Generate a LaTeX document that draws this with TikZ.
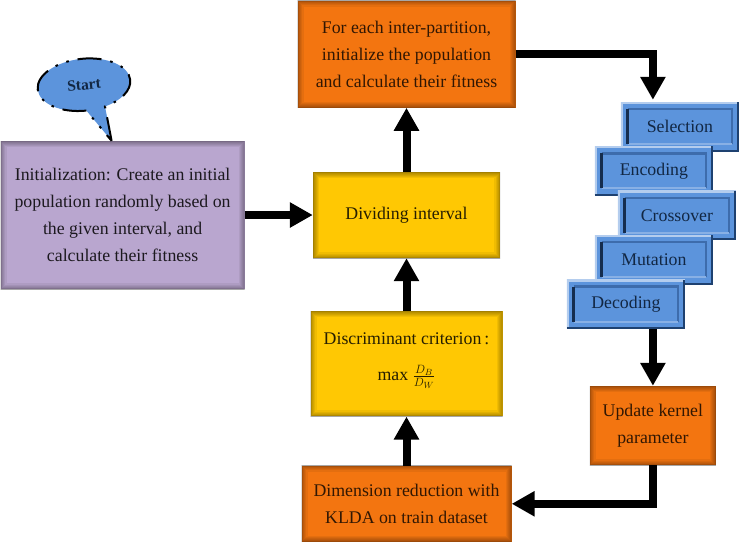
\documentclass[tikz,border=0pt]{standalone}
\usepackage{fontspec}
\setmainfont{Liberation Serif}
\usetikzlibrary{arrows.meta,positioning,calc,shapes.callouts}
\definecolor{initFill}{HTML}{B9A6CF}
\definecolor{stepFill}{HTML}{FFC803}
\definecolor{loopFill}{HTML}{F37510}
\definecolor{blockFill}{HTML}{5C94DC}
\definecolor{blockLight}{HTML}{B4CDEE}
\definecolor{blockMid}{HTML}{3D6CAC}
\definecolor{blockDark}{HTML}{1E4170}
\tikzset{
  x=1pt, y=1pt,
  font=\fontsize{17.8}{27}\selectfont,
  innershade/.style={path picture={
      \foreach \w in {1,2,3,5,7,9,12}
        \draw[black, opacity=0.06, line width=\w pt]
          (path picture bounding box.south west) rectangle (path picture bounding box.north east);}},
  box/.style   ={align=center, inner sep=0pt, innershade},
  init/.style  ={box, fill=initFill, text=black!85!initFill},
  stage/.style ={box, fill=stepFill, text=black!85!stepFill},
  loopy/.style ={box, fill=loopFill, text=black!80!loopFill},
  block/.style ={align=center, inner sep=0pt, fill=blockFill, minimum width=118pt, minimum height=49pt,
      text=blockDark!60!black, path picture={
      \coordinate (sw) at (path picture bounding box.south west);
      \coordinate (ne) at (path picture bounding box.north east);
      \coordinate (nw) at (path picture bounding box.north west);
      \coordinate (se) at (path picture bounding box.south east);
      % outer rim
      \draw[blockLight, line width=4pt] (sw) -- (nw) -- (ne);
      \draw[blockDark, line width=3pt] (sw) -- (se) -- (ne);
      % inner frame
      \draw[blockMid, line width=2.5pt] ([shift={(7,-7)}]nw) -- ([shift={(-7,-7)}]ne) -- ([shift={(-7,7)}]se);
      \draw[blockLight!50!blockFill, line width=2pt] ([shift={(7,7)}]sw) -- ([shift={(-7,7)}]se);
      \draw[blockDark!70!black, line width=3pt] ([shift={(7,-7)}]nw) -- ([shift={(7,7)}]sw);
      }},
  arr/.style   ={-{Triangle[length=23pt,width=24pt]}, line width=8pt, black},
}
\begin{document}
\begin{tikzpicture}
  \useasboundingbox (0,0) rectangle (740,-542);
  % middle column
  \node[stage, minimum width=187pt, minimum height=86pt] (divide) at (406.5,-215) {Dividing interval};
  \node[init, left=68pt of divide, minimum width=244pt, minimum height=148pt] (init)
        {Initialization: Create an initial\\population randomly based on\\the given interval, and\\calculate their fitness};
  \node[loopy, above=64pt of divide, minimum width=218pt, minimum height=107pt] (top)
        {For each inter-partition,\\initialize the population\\and calculate their fitness};
  \node[stage, below=53pt of divide, minimum width=192pt, minimum height=105pt] (crit)
        {Discriminant criterion\,:\\[9pt]max\ $\frac{D_B}{D_W}$\rule[-14pt]{0pt}{14pt}};
  \node[loopy, below=49pt of crit, minimum width=210pt, minimum height=76pt] (dimen)
        {Dimension reduction with\\KLDA on train dataset};

  % genetic operators
  \node[block, below right=-6pt and 105pt of top] (select) {Selection};
  \node[block, below=-5pt of select, xshift=-26pt] (encode) {Encoding};
  \node[block, below=-5pt of encode, xshift=23pt]  (cross)  {Crossover};
  \node[block, below=-5pt of cross, xshift=-23pt]  (mutate) {Mutation};
  \node[block, below=-5pt of mutate, xshift=-28pt] (decode) {Decoding};
  \node[loopy, below=57pt of decode, xshift=27pt, minimum width=126pt, minimum height=79pt] (update)
        {Update kernel\\parameter};

  % start bubble
  \node[ellipse callout, callout absolute pointer={(init.north)+(-11,0)}, callout pointer arc=24, rotate=6,
        draw=black, fill=blockFill, line width=2pt,
        dash pattern=on 24pt off 9pt on 2.5pt off 9pt on 2.5pt off 9pt,
        minimum width=93pt, minimum height=52pt, inner sep=0pt,
        font=\fontsize{15.5}{16}\selectfont\bfseries, text=blockDark!60!black,
        above=33pt of init.north, xshift=-36pt] (start) {Start};

  % flow
  \coordinate (selectIn) at ([xshift=-27pt,yshift=2pt]select.north);
  \foreach \a/\b in {init/divide, divide/top, crit/divide, dimen/crit}
      \draw[arr] (\a) -- (\b);
  \draw[arr] (top.east) -| (selectIn);
  \draw[arr] (decode.south -| update.north) -- (update.north);
  \draw[arr] (update.south) |- (dimen.east);
\end{tikzpicture}
\end{document}
